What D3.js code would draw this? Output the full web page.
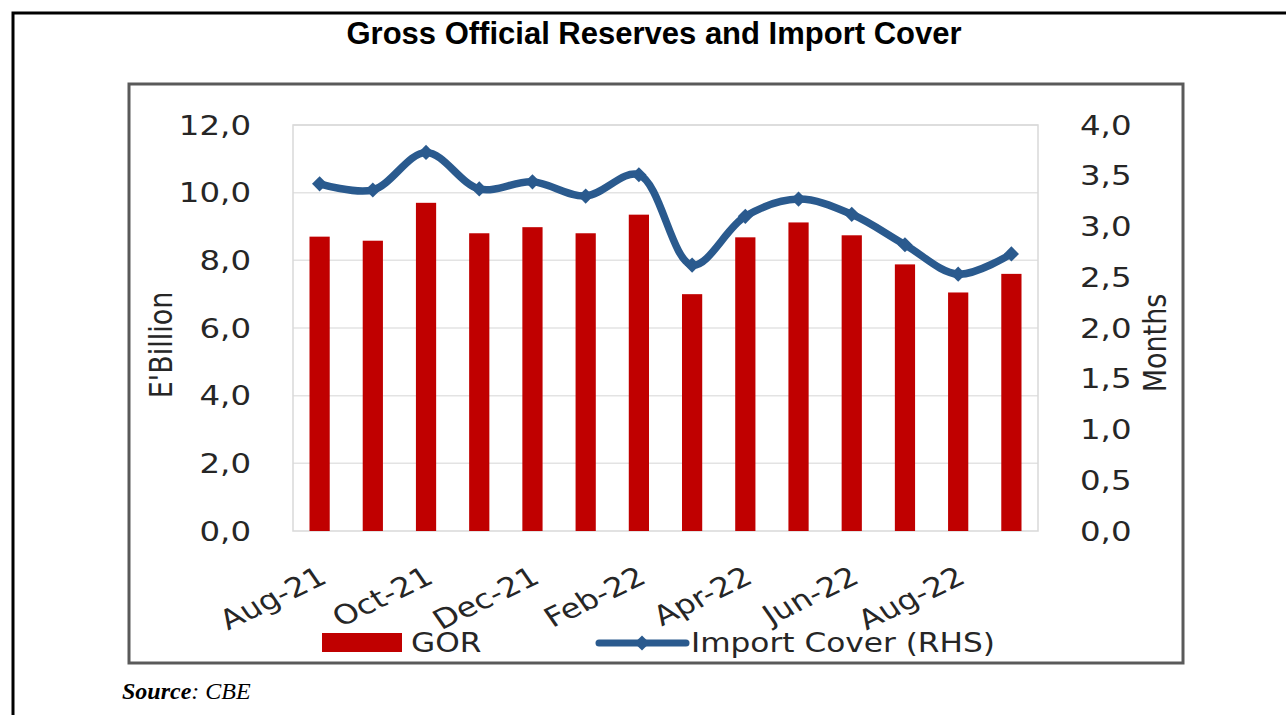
<!DOCTYPE html>
<html>
<head>
<meta charset="utf-8">
<script src="https://cdn.jsdelivr.net/npm/d3@7"></script>
<style>
  body { margin: 0; background: #fff; }
  svg { display: block; }
</style>
</head>
<body>
<script>
// chart data
const months = ["Aug-21", "Sep-21", "Oct-21", "Nov-21", "Dec-21", "Jan-22", "Feb-22",
                "Mar-22", "Apr-22", "May-22", "Jun-22", "Jul-22", "Aug-22", "Sep-22"];
const gor = [8.70, 8.58, 9.70, 8.80, 8.98, 8.80, 9.35, 7.00, 8.68, 9.12, 8.74, 7.88, 7.05, 7.60];
const importCover = [3.42, 3.36, 3.73, 3.37, 3.44, 3.30, 3.51, 2.62, 3.10, 3.27, 3.12, 2.82, 2.53, 2.73];
const leftTicks = [0, 2, 4, 6, 8, 10, 12];
const rightTicks = [0, 0.5, 1, 1.5, 2, 2.5, 3, 3.5, 4];
const shownLabels = ["Aug-21", "Oct-21", "Dec-21", "Feb-22", "Apr-22", "Jun-22", "Aug-22"];

const width = 1286, height = 715;
const plot = { left: 293, right: 1038, top: 125, bottom: 531 };
const stretch = 1.2;   // the source image is a bit stretched horizontally
const labelFont = "DejaVu Sans, sans-serif";
const red = "#c00000", blue = "#2a5a8e";

const svg = d3.select("body").append("svg")
    .attr("width", width)
    .attr("height", height);

// outer frame (only top and left visible)
svg.append("path")
    .attr("d", `M13,${height + 5} L13,13 L${width + 5},13`)
    .attr("fill", "none")
    .attr("stroke", "#000")
    .attr("stroke-width", 3);

// title
svg.append("text")
    .attr("x", 654).attr("y", 44)
    .attr("text-anchor", "middle")
    .style("font-family", "Liberation Sans, Arial, sans-serif")
    .style("font-weight", "bold")
    .style("font-size", "31px")
    .text("Gross Official Reserves and Import Cover");

// chart box
svg.append("rect")
    .attr("x", 129).attr("y", 84)
    .attr("width", 1054).attr("height", 579)
    .attr("fill", "#fff")
    .attr("stroke", "#5a5a5a")
    .attr("stroke-width", 3);

// scales
const x = d3.scaleBand()
    .domain(months)
    .range([plot.left, plot.right])
    .paddingInner(0.62)
    .paddingOuter(0.31);

const yL = d3.scaleLinear().domain([0, 12]).range([plot.bottom, plot.top]);
const yR = d3.scaleLinear().domain([0, 4]).range([plot.bottom, plot.top]);

const fmt = v => d3.format(".1f")(v).replace(".", ",");

// gridlines
svg.append("g").selectAll("line")
    .data(leftTicks.slice(1))
    .enter().append("line")
    .attr("x1", plot.left).attr("x2", plot.right)
    .attr("y1", d => yL(d)).attr("y2", d => yL(d))
    .attr("stroke", "#e3e3e3")
    .attr("stroke-width", 1.5);

// plot border
svg.append("rect")
    .attr("x", plot.left).attr("y", plot.top)
    .attr("width", plot.right - plot.left)
    .attr("height", plot.bottom - plot.top)
    .attr("fill", "none")
    .attr("stroke", "#d9d9d9")
    .attr("stroke-width", 1.5);

// left axis labels
svg.append("g").selectAll("text")
    .data(leftTicks)
    .enter().append("text")
    .attr("transform", d => `translate(251,${yL(d)}) scale(${stretch},1)`)
    .attr("dy", "0.36em")
    .attr("text-anchor", "end")
    .attr("fill", "#262626")
    .style("font-family", labelFont)
    .style("font-size", "27px")
    .text(fmt);

// right axis labels
svg.append("g").selectAll("text")
    .data(rightTicks)
    .enter().append("text")
    .attr("transform", d => `translate(1080,${yR(d)}) scale(${stretch},1)`)
    .attr("dy", "0.36em")
    .attr("fill", "#262626")
    .style("font-family", labelFont)
    .style("font-size", "27px")
    .text(fmt);

// axis titles
svg.append("text")
    .attr("transform", `translate(172,345) scale(${stretch},1) rotate(-90)`)
    .attr("text-anchor", "middle")
    .attr("fill", "#262626")
    .style("font-family", labelFont)
    .style("font-size", "27px")
    .text("E'Billion");

svg.append("text")
    .attr("transform", `translate(1166,343) scale(${stretch},1) rotate(-90)`)
    .attr("text-anchor", "middle")
    .attr("fill", "#262626")
    .style("font-family", labelFont)
    .style("font-size", "27px")
    .text("Months");

// x labels, every second month
svg.append("g").selectAll("text")
    .data(shownLabels)
    .enter().append("text")
    .attr("transform", d => `translate(${x(d) + x.bandwidth() / 2 + 9},582) scale(${stretch},1) rotate(-30)`)
    .attr("text-anchor", "end")
    .attr("fill", "#262626")
    .style("font-family", labelFont)
    .style("font-size", "27px")
    .text(d => d);

// bars
svg.append("g").selectAll("rect")
    .data(months)
    .enter().append("rect")
    .attr("x", d => x(d))
    .attr("y", (d, i) => yL(gor[i]))
    .attr("width", x.bandwidth())
    .attr("height", (d, i) => plot.bottom - yL(gor[i]))
    .attr("fill", red);

// import cover line
const line = d3.line()
    .x((d, i) => x(months[i]) + x.bandwidth() / 2)
    .y(d => yR(d))
    .curve(d3.curveCatmullRom.alpha(0.5));

svg.append("path")
    .datum(importCover)
    .attr("d", line)
    .attr("fill", "none")
    .attr("stroke", blue)
    .attr("stroke-width", 7.5)
    .attr("stroke-linejoin", "round")
    .attr("stroke-linecap", "round");

const diamond = d3.symbol().type(d3.symbolSquare).size(115);

svg.append("g").selectAll("path")
    .data(importCover)
    .enter().append("path")
    .attr("d", diamond)
    .attr("transform", (d, i) => `translate(${x(months[i]) + x.bandwidth() / 2},${yR(d)}) rotate(45)`)
    .attr("fill", blue);

// legend
const legend = svg.append("g");
legend.append("rect")
    .attr("x", 322).attr("y", 633)
    .attr("width", 80).attr("height", 19)
    .attr("fill", red);
legend.append("text")
    .attr("transform", `translate(411,652) scale(${stretch},1)`)
    .attr("fill", "#262626")
    .style("font-family", labelFont)
    .style("font-size", "26px")
    .text("GOR");

legend.append("line")
    .attr("x1", 599).attr("x2", 686)
    .attr("y1", 643).attr("y2", 643)
    .attr("stroke", blue)
    .attr("stroke-width", 7)
    .attr("stroke-linecap", "round");
legend.append("path")
    .attr("d", diamond)
    .attr("transform", "translate(642,643) rotate(45)")
    .attr("fill", blue);
legend.append("text")
    .attr("transform", `translate(691,652) scale(${stretch},1)`)
    .attr("fill", "#262626")
    .style("font-family", labelFont)
    .style("font-size", "26px")
    .text("Import Cover (RHS)");

// source note
const src = svg.append("text")
    .attr("x", 122).attr("y", 699)
    .style("font-family", "Liberation Serif, Times New Roman, serif")
    .style("font-size", "24px")
    .style("font-style", "italic");
src.append("tspan").style("font-weight", "bold").text("Source");
src.append("tspan").text(": CBE");
</script>
</body>
</html>
